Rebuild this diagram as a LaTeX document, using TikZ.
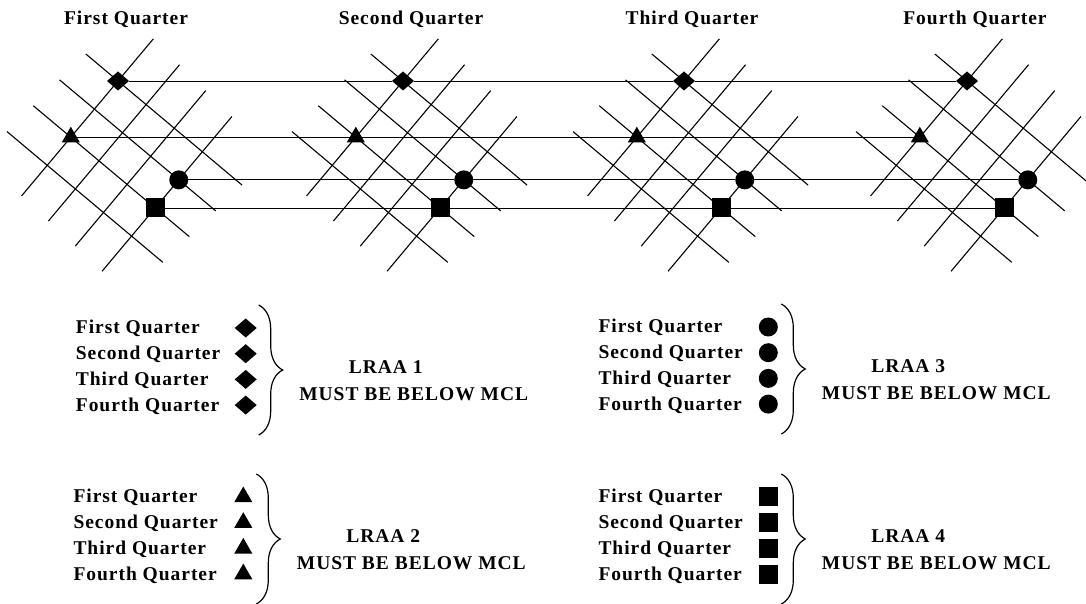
\documentclass[tikz,border=0pt]{standalone}
\usepackage{fontspec}
\setmainfont{Liberation Serif}[LetterSpace=5]
\usetikzlibrary{
  shapes.geometric,
  decorations.pathreplacing
}
\newcommand\gridstep{36.7}
\tikzset{
  gridline/.style={line width=1.1pt},
  hline/.style={line width=0.9pt},
  markbase/.style={fill=black, draw=none, inner sep=0pt, outer sep=0pt},
  diamark/.style={markbase, diamond, minimum width=22pt, minimum height=19pt},
  trimark/.style={markbase, regular polygon, regular polygon sides=3, minimum size=21pt},
  circmark/.style={markbase, circle, minimum size=19pt},
  sqmark/.style={markbase, rectangle, minimum size=19pt},
  qtext/.style={font=\fontsize{19.5}{22}\selectfont\bfseries, inner sep=0pt},
  legbrace/.style={decorate, decoration={brace, amplitude=24pt}, line width=1.2pt},
  quartergrid/.pic={
    \begin{scope}[rotate=-40]
      \foreach \i in {0,...,3} {
        \draw[gridline] ({\i*\gridstep},{-150-2*\i}) -- ({\i*\gridstep},{55-3*\i});
        \draw[gridline] ({-42-3.5*\i},{-\i*\gridstep}) -- ({162-3.7*\i},{-\i*\gridstep});
      }
      \node[diamark] (-dia) at (0,0) {};
      \node[trimark] (-tri) at (0,{-2*\gridstep}) {};
      \node[circmark] (-circ) at ({3*\gridstep},{-\gridstep}) {};
      \node[sqmark] (-sq) at ({3*\gridstep},{-2*\gridstep}) {};
    \end{scope}
  },
  pics/legendblock/.style 2 args={code={
    \foreach \q [count=\k from 0] in {First,Second,Third,Fourth} {
      \node[qtext, anchor=base west] (-l\k) at (0,{-25.7*\k}) {\q\ Quarter};
      \node[#1] (-m\k) at (170,{6-25.7*\k}) {};
    }
    \draw[legbrace] (183,29) -- (183,-101);
    \node[qtext, anchor=base] (-lraa) at (310,-40) {LRAA #2};
    \node[qtext, anchor=base] (-mcl) at (338,-67) {MUST BE BELOW MCL};
  }}
}

\begin{document}
\begin{tikzpicture}[x=1pt,y=1pt]
\useasboundingbox (0,0) rectangle (1086,604);

% one crossed grid per quarter
\foreach \k/\xpos in {1/118,2/403,3/684,4/967}
  \pic (q\k) at (\xpos,523) {quartergrid};

% same marker joined across the quarters
\foreach \m in {dia,tri,circ,sq}
  \draw[hline] (q1-\m) -- (q2-\m) -- (q3-\m) -- (q4-\m);

% quarter titles
\foreach \k/\q in {1/First,2/Second,3/Third,4/Fourth}
  \node[qtext, anchor=base] (title\k) at ([shift={(8,56)}]q\k-dia.center) {\q\ Quarter};

% legend
\pic (leg1) at (75.7,270) {legendblock={diamark}{1}};
\pic (leg2) at (73.3,101) {legendblock={trimark}{2}};
\pic (leg3) at (598.3,271) {legendblock={circmark}{3}};
\pic (leg4) at (598.3,101) {legendblock={sqmark}{4}};
\end{tikzpicture}
\end{document}
